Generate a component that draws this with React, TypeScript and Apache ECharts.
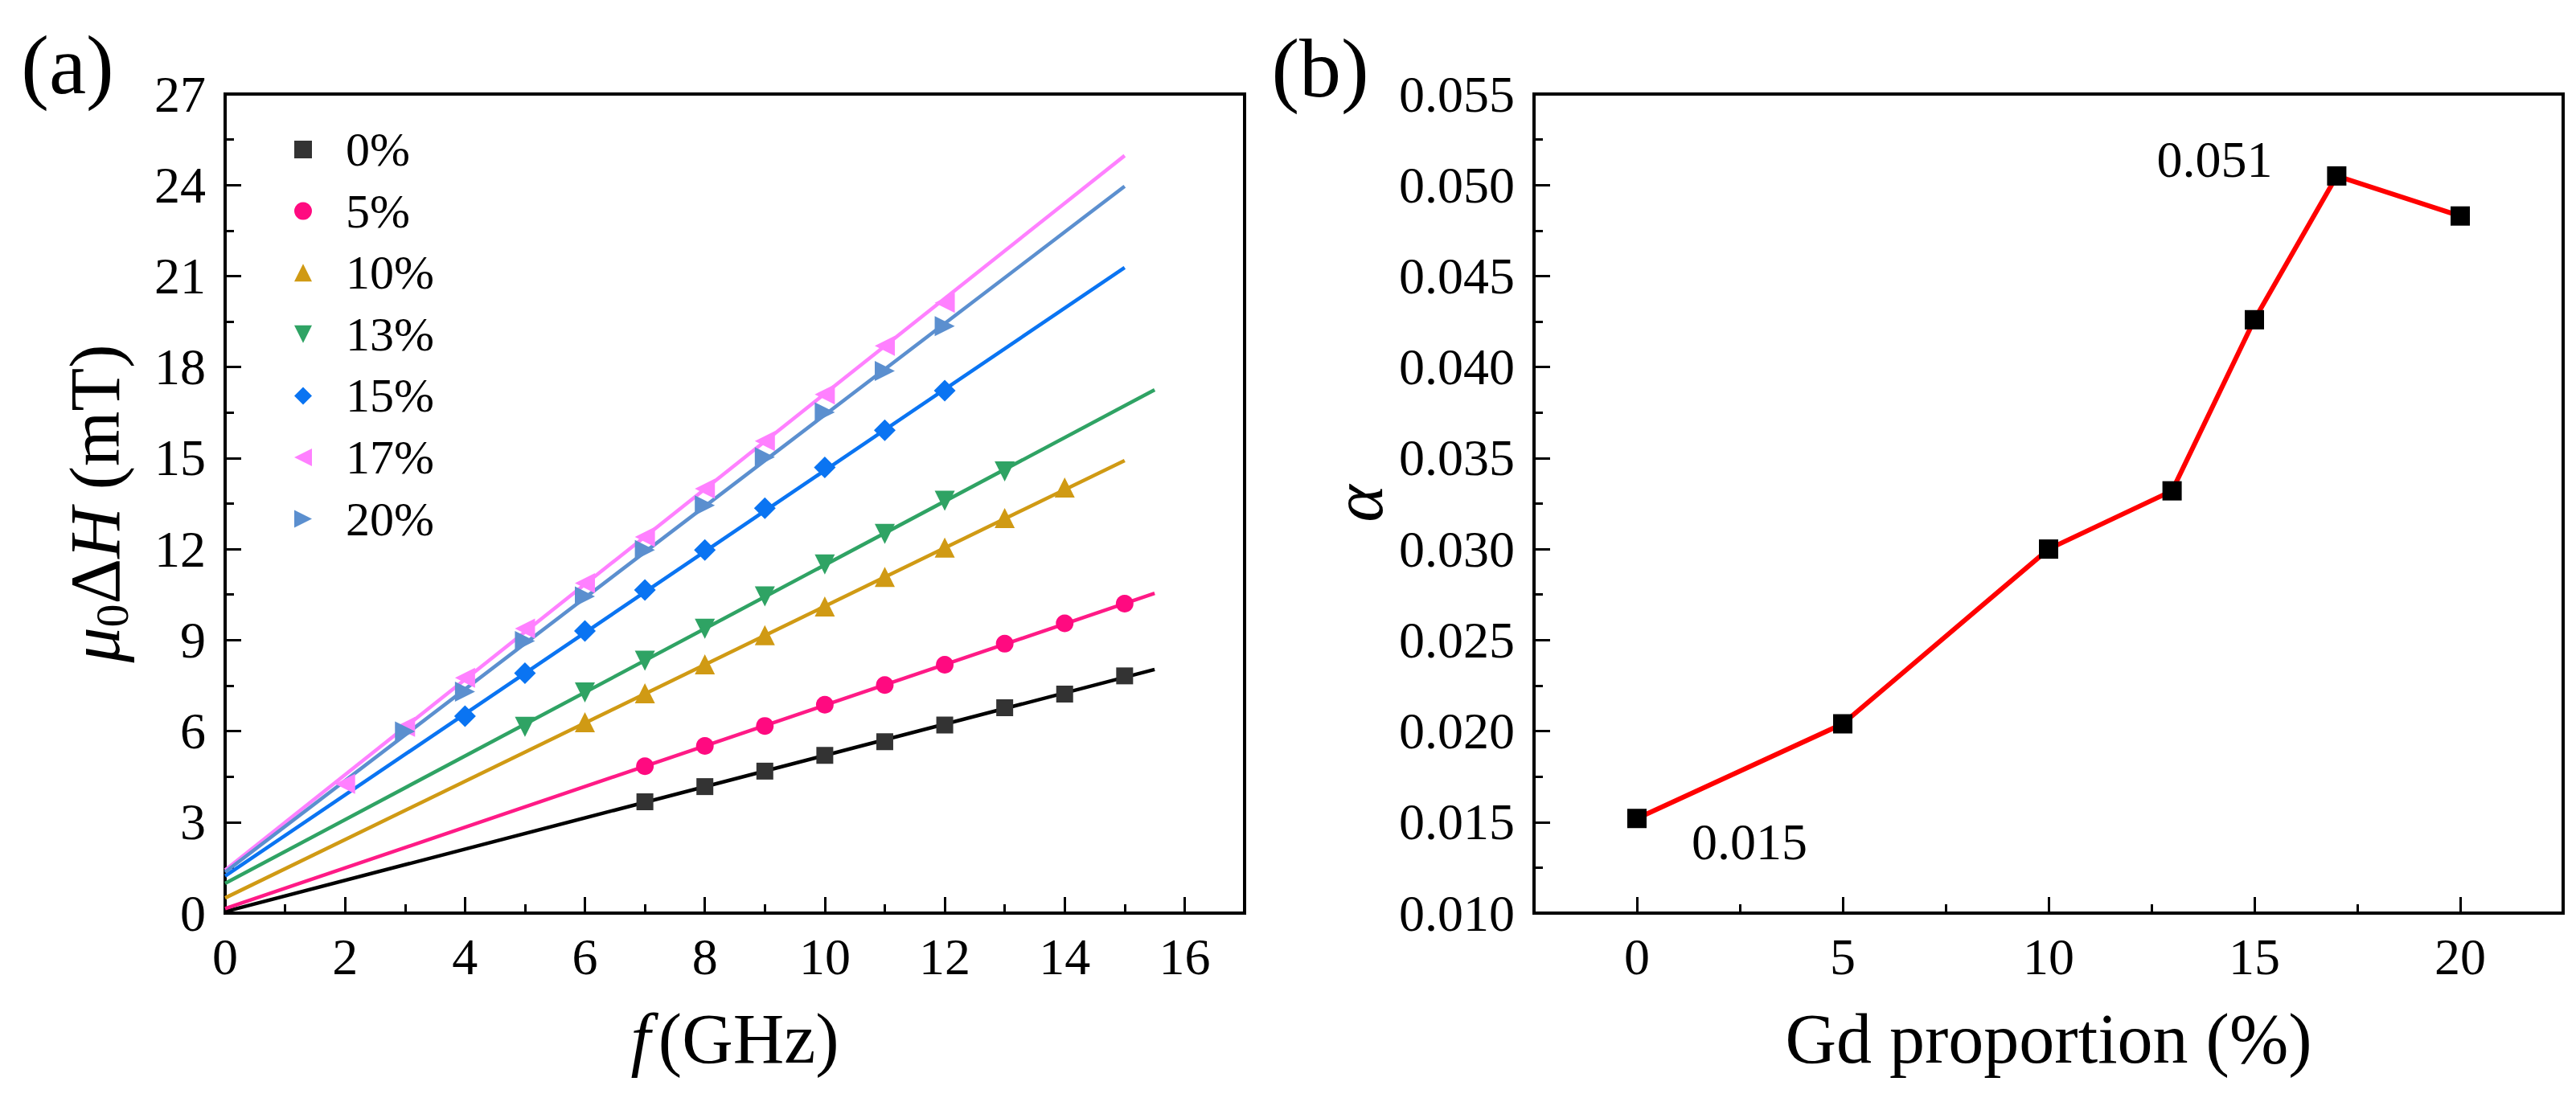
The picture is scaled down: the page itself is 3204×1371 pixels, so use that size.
import React, { useEffect, useRef } from 'react';
import * as echarts from 'echarts';

const FONT = "'Liberation Serif', 'Times New Roman', Times, serif";

// ---------- Panel (a) data ----------
const seriesNames = ['0%', '5%', '10%', '13%', '15%', '17%', '20%'];
const seriesColors = ['#333333', '#FF0A80', '#D09A14', '#2FA364', '#0A74F2', '#FF80FF', '#5B8FCF'];
const lineColors = ['#000000', '#FF1A86', '#D09A14', '#2FA364', '#0A74F2', '#FF80FF', '#5B8FCF'];
const seriesSymbols = ['rect', 'circle', 'triangle', 'triangle', 'diamond', 'triangle', 'triangle'];
const seriesRotate = [0, 0, 0, 180, 0, 90, -90];
const seriesSizes = [21, 22, 25, 25, 27, 25, 25];
const legendIcons = [
  'rect',
  'circle',
  'path://M1,0L2,2L0,2Z',
  'path://M0,0L2,0L1,2Z',
  'diamond',
  'path://M2,0L2,2L0,1Z',
  'path://M0,0L2,1L0,2Z',
];

const freq0 = [7, 8, 9, 10, 11, 12, 13, 14, 15];
const width0 = [3.67, 4.17, 4.68, 5.2, 5.65, 6.2, 6.77, 7.22, 7.82];
const freq5 = [7, 8, 9, 10, 11, 12, 13, 14, 15];
const width5 = [4.84, 5.51, 6.17, 6.87, 7.52, 8.19, 8.88, 9.55, 10.2];
const freq10 = [6, 7, 8, 9, 10, 11, 12, 13, 14];
const width10 = [6.29, 7.25, 8.2, 9.16, 10.11, 11.08, 12.05, 13.02, 14.03];
const freq13 = [5, 6, 7, 8, 9, 10, 11, 12, 13];
const width13 = [6.14, 7.27, 8.32, 9.37, 10.44, 11.49, 12.5, 13.59, 14.56];
const freq15 = [4, 5, 6, 7, 8, 9, 10, 11, 12];
const width15 = [6.49, 7.91, 9.3, 10.65, 11.97, 13.35, 14.69, 15.92, 17.22];
const freq17 = [2, 3, 4, 5, 6, 7, 8, 9, 10, 11, 12];
const width17 = [4.26, 6.14, 7.76, 9.38, 10.88, 12.4, 13.99, 15.56, 17.1, 18.7, 20.12];
const freq20 = [3, 4, 5, 6, 7, 8, 9, 10, 11, 12];
const width20 = [5.99, 7.3, 8.97, 10.44, 11.97, 13.44, 15.03, 16.51, 17.87, 19.35];

const freqs = [freq0, freq5, freq10, freq13, freq15, freq17, freq20];
const widths = [width0, width5, width10, width13, width15, width17, width20];

// linear fits: start (f = 0) and end points
const fitStartF = [0, 0, 0, 0, 0, 0, 0];
const fitStartW = [0.05, 0.15, 0.5, 0.98, 1.22, 1.42, 1.35];
const fitEndF = [15.5, 15.5, 15, 15.5, 15, 15, 15];
const fitEndW = [8.03, 10.54, 14.92, 17.25, 21.28, 24.97, 23.96];

const aXMajorTicks = [0, 2, 4, 6, 8, 10, 12, 14, 16];
const aXMinorTicks = [1, 3, 5, 7, 9, 11, 13, 15];

// ---------- Panel (b) data ----------
const gdProportion = [0, 5, 10, 13, 15, 17, 20];
const alphaValues = [0.0152, 0.0204, 0.03, 0.0332, 0.0426, 0.0505, 0.0483];
const annotIndex = [0, 5];
const annotText = ['0.015', '0.051'];
const annotOffset = [[140, 29], [-152, -20]];

const bXMajorTicks = [0, 5, 10, 15, 20];
const bXMinorTicks = [2.5, 7.5, 12.5, 17.5];

const TICK_FONT = 64;
const TITLE_FONT = 88;

function App() {
  const ref = useRef<HTMLDivElement>(null);
  useEffect(() => {
    if (!ref.current) return;
    const chart = echarts.init(ref.current, null, { renderer: 'svg' });

    const tickLabel = {
      color: '#000',
      fontFamily: FONT,
      fontSize: TICK_FONT,
    };
    const majorTick = { show: true, inside: true, length: 20, lineStyle: { color: '#000', width: 3 } };
    const minorTickStyle = { show: true, splitNumber: 2, length: 11, lineStyle: { color: '#000', width: 3 } };
    const axisLine = { show: true, onZero: false, lineStyle: { color: '#000', width: 4 } };

    const series: any[] = [];
    seriesNames.forEach((name, i) => {
      series.push({
        name: 'fit ' + name,
        type: 'line',
        xAxisIndex: 0,
        yAxisIndex: 0,
        data: [
          [fitStartF[i], fitStartW[i]],
          [fitEndF[i], fitEndW[i]],
        ],
        showSymbol: false,
        symbol: 'none',
        silent: true,
        lineStyle: { color: lineColors[i], width: 4.5 },
        z: 2,
      });
    });
    seriesNames.forEach((name, i) => {
      series.push({
        name,
        type: 'scatter',
        xAxisIndex: 0,
        yAxisIndex: 0,
        data: freqs[i].map((f, k) => [f, widths[i][k]]),
        symbol: seriesSymbols[i],
        symbolSize: seriesSizes[i],
        symbolRotate: seriesRotate[i],
        itemStyle: { color: seriesColors[i], opacity: 1 },
        z: 3,
      });
    });

    series.push({
      name: 'alpha',
      type: 'line',
      xAxisIndex: 2,
      yAxisIndex: 1,
      data: gdProportion.map((g, k) => {
        const ai = annotIndex.indexOf(k);
        const item: any = { value: [g, alphaValues[k]] };
        if (ai >= 0) {
          item.label = {
            show: true,
            position: 'inside',
            offset: annotOffset[ai],
            formatter: annotText[ai],
            color: '#000',
            fontFamily: FONT,
            fontSize: TICK_FONT,
            align: 'center',
            verticalAlign: 'middle',
          };
        }
        return item;
      }),
      symbol: 'rect',
      symbolSize: 24,
      itemStyle: { color: '#000' },
      lineStyle: { color: '#FF0000', width: 6 },
      z: 3,
    });

    const option: any = {
      animation: false,
      backgroundColor: '#fff',
      grid: [
        { left: 280, top: 117, width: 1268, height: 1019, show: true, borderColor: '#000', borderWidth: 4, containLabel: false },
        { left: 1908, top: 117, width: 1280, height: 1019, show: true, borderColor: '#000', borderWidth: 4, containLabel: false },
      ],
      legend: {
        show: true,
        data: seriesNames.map((n, i) => ({ name: n, icon: legendIcons[i] })),
        orient: 'vertical',
        left: 361,
        top: 151,
        itemWidth: 22,
        itemHeight: 22,
        itemGap: 16.6,
        selectedMode: false,
        textStyle: {
          color: '#000',
          fontFamily: FONT,
          fontSize: 60,
          lineHeight: 60,
          padding: [0, 0, 0, 37],
        },
      },
      xAxis: [
        {
          type: 'value',
          gridIndex: 0,
          min: 0,
          max: 17,
          interval: 2,
          position: 'bottom',
          axisLine,
          axisTick: { ...majorTick, customValues: aXMajorTicks },
          axisLabel: { ...tickLabel, margin: 22, customValues: aXMajorTicks },
          splitLine: { show: false },
          name: '{i|f}{n|(GHz)}',
          nameLocation: 'middle',
          nameGap: 112,
          nameTextStyle: {
            color: '#000',
            fontFamily: FONT,
            fontSize: TITLE_FONT,
            rich: {
              i: { fontFamily: FONT, fontSize: TITLE_FONT, fontStyle: 'italic', color: '#000', padding: [0, 10, 0, 0] },
              n: { fontFamily: FONT, fontSize: TITLE_FONT, color: '#000' },
            },
          },
        },
        {
          type: 'value',
          gridIndex: 0,
          min: 0,
          max: 17,
          interval: 1,
          position: 'bottom',
          axisLine: { show: false },
          axisTick: { show: true, inside: true, length: 11, lineStyle: { color: '#000', width: 3 }, customValues: aXMinorTicks },
          axisLabel: { show: false },
          splitLine: { show: false },
        },
        {
          type: 'value',
          gridIndex: 1,
          min: -2.5,
          max: 22.5,
          position: 'bottom',
          axisLine,
          axisTick: { ...majorTick, customValues: bXMajorTicks },
          axisLabel: { ...tickLabel, margin: 22, customValues: bXMajorTicks },
          splitLine: { show: false },
          name: 'Gd proportion (%)',
          nameLocation: 'middle',
          nameGap: 112,
          nameTextStyle: { color: '#000', fontFamily: FONT, fontSize: TITLE_FONT },
        },
        {
          type: 'value',
          gridIndex: 1,
          min: -2.5,
          max: 22.5,
          position: 'bottom',
          axisLine: { show: false },
          axisTick: { show: true, inside: true, length: 11, lineStyle: { color: '#000', width: 3 }, customValues: bXMinorTicks },
          axisLabel: { show: false },
          splitLine: { show: false },
        },
      ],
      yAxis: [
        {
          type: 'value',
          gridIndex: 0,
          min: 0,
          max: 27,
          interval: 3,
          axisLine,
          axisTick: majorTick,
          minorTick: minorTickStyle,
          axisLabel: { ...tickLabel, margin: 24 },
          splitLine: { show: false },
          minorSplitLine: { show: false },
          name: '{mu|μ}{sub|0}{n|Δ}{mu|H}{n| (mT)}',
          nameLocation: 'middle',
          nameRotate: 90,
          nameGap: 112,
          nameTextStyle: {
            color: '#000',
            fontFamily: FONT,
            fontSize: TITLE_FONT,
            rich: {
              mu: { fontFamily: FONT, fontSize: TITLE_FONT, fontStyle: 'italic', color: '#000', lineHeight: 100 },
              sub: { fontFamily: FONT, fontSize: 58, color: '#000', verticalAlign: 'bottom', lineHeight: 100 },
              n: { fontFamily: FONT, fontSize: TITLE_FONT, color: '#000', lineHeight: 100 },
            },
          },
        },
        {
          type: 'value',
          gridIndex: 1,
          min: 0.01,
          max: 0.055,
          interval: 0.005,
          axisLine,
          axisTick: majorTick,
          minorTick: minorTickStyle,
          axisLabel: { ...tickLabel, margin: 24, formatter: (v: number) => v.toFixed(3) },
          splitLine: { show: false },
          minorSplitLine: { show: false },
          name: 'α',
          nameLocation: 'middle',
          nameRotate: 90,
          nameGap: 175,
          nameTextStyle: { color: '#000', fontFamily: FONT, fontSize: TITLE_FONT, fontStyle: 'italic' },
        },
      ],
      graphic: [
        {
          type: 'text',
          x: 84,
          y: 80,
          style: {
            text: '(a)',
            fontFamily: FONT,
            fontSize: 104,
            fill: '#000',
            align: 'center',
            verticalAlign: 'middle',
            textAlign: 'center',
            textVerticalAlign: 'middle',
          },
        },
        {
          type: 'text',
          x: 1642,
          y: 84,
          style: {
            text: '(b)',
            fontFamily: FONT,
            fontSize: 104,
            fill: '#000',
            align: 'center',
            verticalAlign: 'middle',
            textAlign: 'center',
            textVerticalAlign: 'middle',
          },
        },
      ],
      series,
    };

    chart.setOption(option);
    return () => {
      chart.dispose();
    };
  }, []);

  return (
    <div
      ref={ref}
      style={{ position: 'absolute', left: 0, top: 0, width: 3204, height: 1371, background: '#fff' }}
    />
  );
}

export default App;
